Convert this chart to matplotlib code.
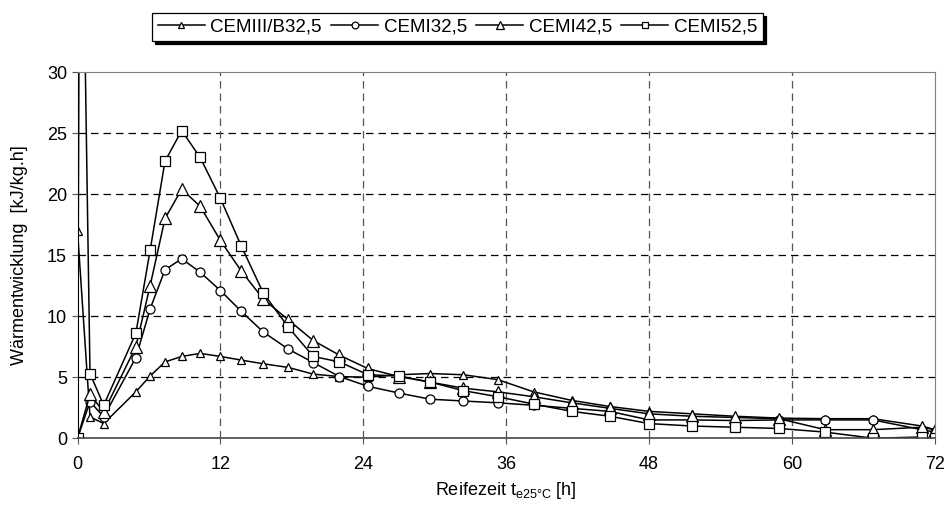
import matplotlib.pyplot as plt
import numpy as np

plt.rcParams['font.family'] = ['Liberation Sans', 'DejaVu Sans']

# Reifezeit in Stunden (gemeinsames Raster)
t = [0, 1.05, 2.2, 4.9, 6.1, 7.35, 8.75, 10.3, 12.0, 13.75, 15.6, 17.7, 19.8, 22.0,
     24.4, 27.0, 29.6, 32.4, 35.3, 38.3, 41.5, 44.7, 48.0, 51.6, 55.2, 58.9, 62.8,
     66.8, 70.9, 72.0]

cem3b_325 = [17.0, 1.75, 1.2, 3.8, 5.1, 6.25, 6.7, 6.95, 6.7, 6.4, 6.1, 5.8, 5.25, 5.05,
             5.0, 5.2, 5.3, 5.2, 4.8, 3.8, 3.1, 2.6, 2.2, 2.0, 1.8, 1.65, 1.6, 1.6, 1.0, 0.7]
cem1_325 = [0, 3.0, 1.75, 6.6, 10.6, 13.8, 14.7, 13.6, 12.1, 10.4, 8.7, 7.3, 6.2, 5.05,
            4.25, 3.7, 3.2, 3.05, 2.9, 2.7, 2.45, 2.2, 1.5, 1.5, 1.45, 1.5, 1.5, 1.5, 0.7, 0.5]
cem1_425 = [0, 3.6, 2.15, 7.5, 12.5, 18.0, 20.4, 19.0, 16.2, 13.7, 11.4, 9.7, 8.0, 6.8,
            5.7, 5.05, 4.6, 4.1, 3.8, 3.4, 2.9, 2.45, 2.0, 1.8, 1.7, 1.6, 0.7, 0.7, 0.9, 0.7]

# CEMI52,5 mit Spitze direkt nach dem Anmachen
t52 = [0, 0.22] + t[1:]
cem1_525 = [0, 58.0, 5.3, 2.7, 8.6, 15.4, 22.7, 25.2, 23.0, 19.65, 15.75, 11.9, 9.1, 6.7, 6.25,
            5.2, 5.1, 4.6, 3.9, 3.4, 2.8, 2.2, 1.8, 1.2, 1.0, 0.9, 0.8, 0.5, 0.0, 0.1, 0.0]

fig = plt.figure(figsize=(9.51, 5.18), dpi=100)
ax = fig.add_axes([0.0815, 0.154, 0.9015, 0.707])

style = dict(color='black', lw=1.1, mfc='white', mec='black', mew=0.9)
l1, = ax.plot(t, cem3b_325, marker='^', ms=5.8, label='CEMIII/B32,5', **style)
l2, = ax.plot(t, cem1_325, marker='o', ms=6.5, label='CEMI32,5', **style)
l3, = ax.plot(t, cem1_425, marker='^', ms=8, label='CEMI42,5', **style)
l4, = ax.plot(t52, cem1_525, marker='s', ms=6.5, label='CEMI52,5', **style)

ax.set_xlim(0, 72)
ax.set_ylim(0, 30)
ax.set_xticks(np.arange(0, 73, 12))
ax.set_yticks(np.arange(0, 31, 5))
ax.tick_params(labelsize=13, length=4, width=0.8, color='#555555')
ax.tick_params(axis='x', pad=9)

# Gitter: horizontal schwarz, vertikal grau gestrichelt
for yv in range(5, 30, 5):
    ax.axhline(yv, color='black', lw=0.9, dashes=(6, 4), zorder=0)
for xv in range(12, 72, 12):
    ax.axvline(xv, color='#555555', lw=0.9, dashes=(6, 4), zorder=0)

for side in ['top', 'right']:
    ax.spines[side].set_color('#808080')
ax.spines['bottom'].set_color('#444444')
ax.spines['left'].set_color('black')
ax.spines['bottom'].set_linewidth(1.2)

ax.set_xlabel(r'Reifezeit t$_{\mathregular{e25°C}}$ [h]', fontsize=13, labelpad=5)
ax.set_ylabel('Wärmentwicklung  [kJ/kg.h]', fontsize=13, labelpad=14)

leg = fig.legend(handles=[l1, l2, l3, l4], loc='upper left', bbox_to_anchor=(0.16, 0.975),
                 ncol=4, fontsize=13.5, frameon=True, fancybox=False,
                 shadow={'color': 'black', 'alpha': 1},
                 handlelength=2.5, handletextpad=0.3, columnspacing=0.5, borderpad=0.3,
                 borderaxespad=0, markerscale=0.75)
leg.get_frame().set_edgecolor('black')
leg.get_frame().set_linewidth(0.9)

fig.savefig('out.png', dpi=100)
